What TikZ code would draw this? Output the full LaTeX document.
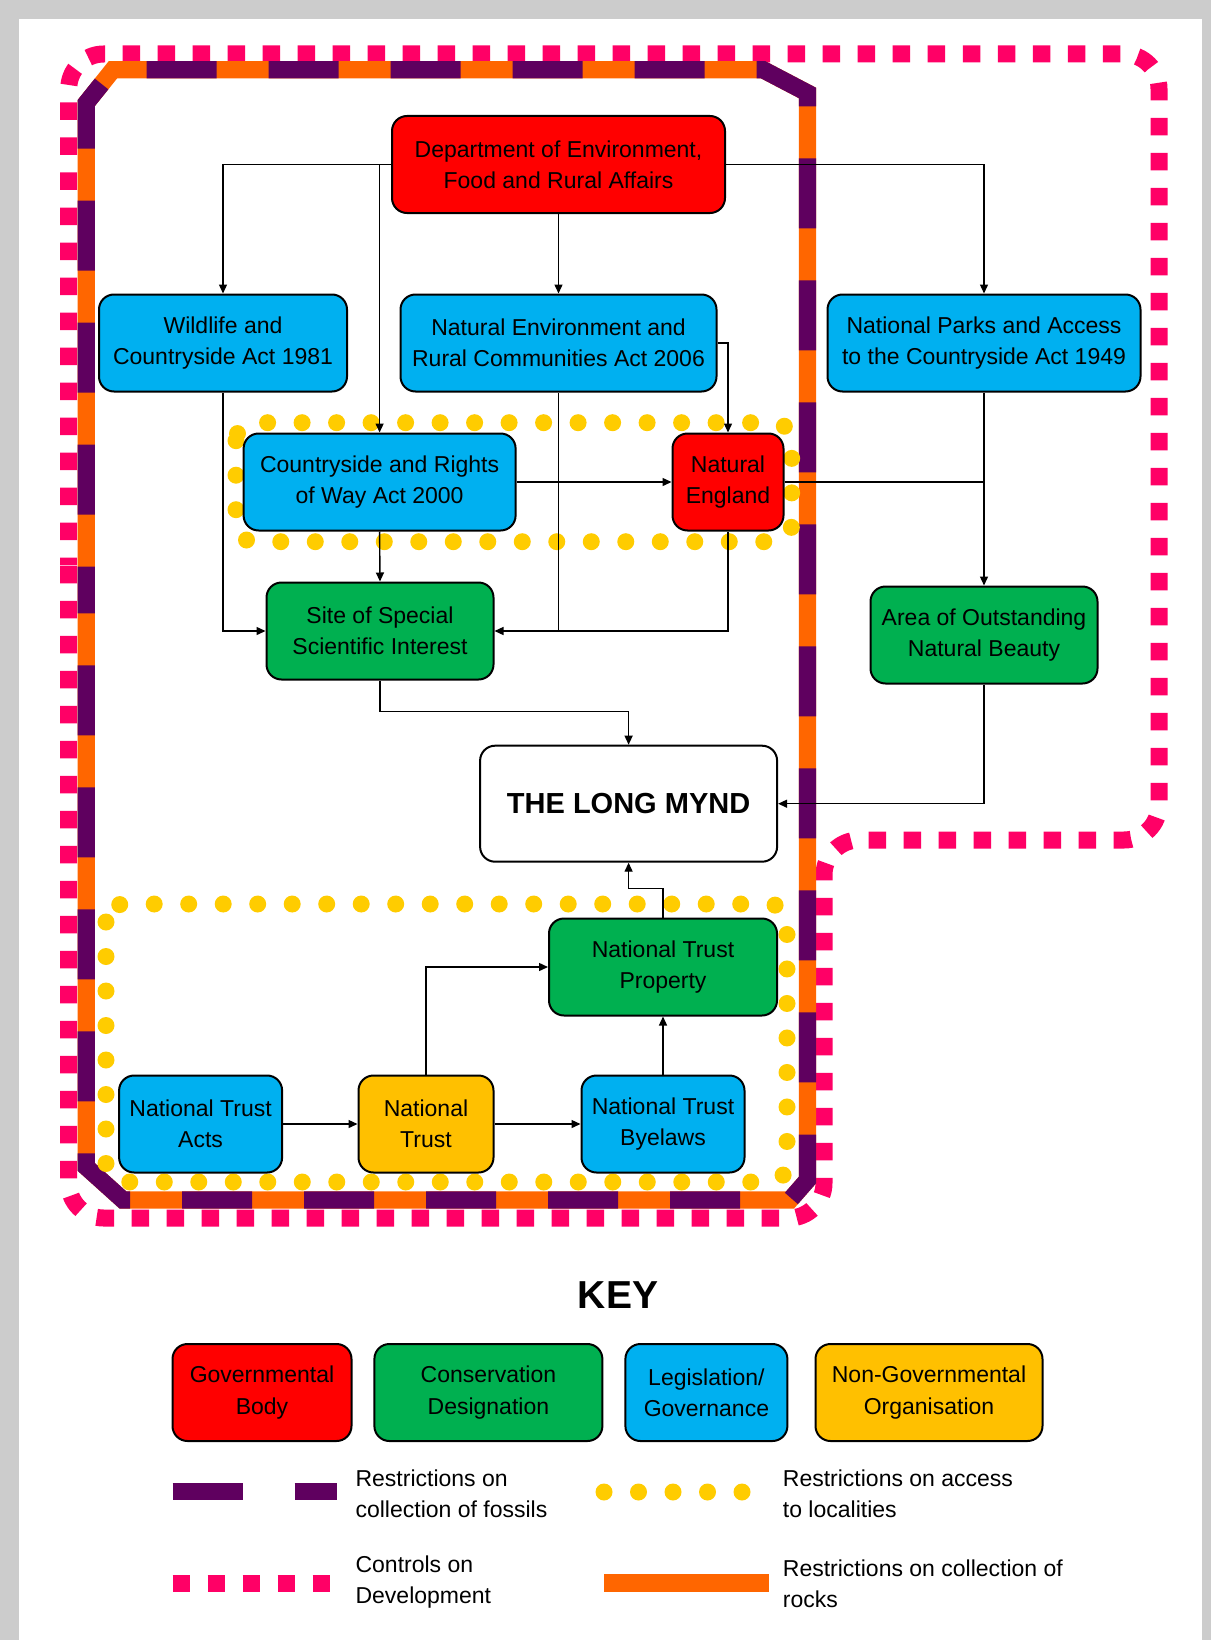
\documentclass[tikz,border=0pt]{standalone}
\usepackage{fontspec}
\setmainfont{Liberation Sans}
\usepackage{tikz}
\usetikzlibrary{arrows.meta}
\definecolor{govred}{HTML}{FF0000}
\definecolor{consgreen}{HTML}{00B050}
\definecolor{legblue}{HTML}{00B0F0}
\definecolor{ngoorange}{HTML}{FFC000}
\definecolor{fossilpurple}{HTML}{5F005F}
\definecolor{rockorange}{HTML}{FF6600}
\definecolor{devpink}{HTML}{FF0066}
\definecolor{accessyellow}{HTML}{FFCC00}
\definecolor{framegray}{HTML}{CCCCCC}
\newcommand{\boxfont}{\fontsize{23pt}{31.4pt}\selectfont}

\begin{document}
\begin{tikzpicture}
	[x=1pt, y=-1pt, font=\boxfont, inner sep=0pt,
	orgbox/.style	= {draw, line width=2pt, rounded corners=15pt, align=center, minimum height=97pt},
	gov/.style		= {orgbox, fill=govred},
	cons/.style		= {orgbox, fill=consgreen},
	legis/.style	= {orgbox, fill=legblue},
	ngo/.style		= {orgbox, fill=ngoorange},
	link/.style		= {line width=1.4pt, -{Triangle[length=9pt,width=8pt]}},
	joinline/.style	= {line width=1.4pt},
	fossils/.style	= {line width=17.3pt, draw=fossilpurple, dash pattern=on 70pt off 52pt},
	rocks/.style	= {line width=17.3pt, draw=rockorange},
	develop/.style	= {line width=17pt, draw=devpink, dash pattern=on 17.5pt off 17.5pt},
	access/.style	= {line width=17pt, draw=accessyellow, line cap=round, dash pattern=on 0pt off 34.5pt},
	keytext/.style	= {anchor=west, align=left}]

	\useasboundingbox (0,0) rectangle (1211,1640);
	\fill [framegray] (0,0) rectangle (1211,1640);
	\fill [white] (19,19) rectangle (1202,1640);

	% restriction boundaries
	\draw [develop, rounded corners=35pt, dash phase=10pt] (68.7,600) -- (68.7,54) -- (1159,54) -- (1159,840) -- (824,840) -- (824,1218) -- (68.7,1218) -- cycle;
	\draw [rocks] (86.3,600) -- (86.3,103) -- (113,69.7) -- (763,69.7) -- (807.5,93) -- (807.5,1180) -- (790,1200) -- (123,1200) -- (86.3,1167) -- cycle;
	\draw [fossils, dash phase=36.6pt] (86.3,600) -- (86.3,103) -- (113,69.7) -- (763,69.7) -- (807.5,93) -- (807.5,1180) -- (790,1200) -- (123,1200) -- (86.3,1167) -- cycle;
	\draw [access, rounded corners=18pt] (236,422.7) rectangle (791.7,541.7);
	\draw [access, rounded corners=18pt] (106,904) rectangle (787,1182);

	% organisations and designations
	\node [gov, minimum width=333pt]	at (558.5,164.5)	(defra)	{Department of Environment,\\Food and Rural Affairs};
	\node [legis, minimum width=248pt]	at (223,343)		(wca)	{Wildlife and\\Countryside Act 1981};
	\node [legis, minimum width=316pt]	at (558.5,343)		(nerc)	{Natural Environment and\\Rural Communities Act 2006};
	\node [legis, minimum width=313pt]	at (984,343)		(np)	{National Parks and Access\\to the Countryside Act 1949};
	\node [legis, minimum width=272pt]	at (379.6,482)		(crow)	{Countryside and Rights\\of Way Act 2000};
	\node [gov, minimum width=111pt]	at (728,482)		(ne)	{Natural\\England};
	\node [cons, minimum width=227pt]	at (380,631)		(sssi)	{Site of Special\\Scientific Interest};
	\node [cons, minimum width=227pt]	at (984,635)		(aonb)	{Area of Outstanding\\Natural Beauty};
	\node [orgbox, fill=white, minimum width=297pt, minimum height=116pt, font=\fontsize{29pt}{34pt}\selectfont\bfseries]
										at (628.6,803.7)	(lm)	{THE LONG MYND};
	\node [cons, minimum width=228pt]	at (663,967)		(ntp)	{National Trust\\Property};
	\node [legis, minimum width=163pt]	at (200.6,1124)		(nta)	{National Trust\\Acts};
	\node [ngo, minimum width=135pt]	at (426,1124)		(nt)	{National\\Trust};
	\node [legis, minimum width=163pt]	at (663,1124)		(ntb)	{National Trust\\Byelaws};

	% connectors
	\draw [link] (defra.west) -| (wca.north);
	\draw [link] (crow.north |- defra.west) -- (crow.north);
	\draw [link] (defra.south) -- (nerc.north);
	\draw [link] (defra.east) -| (np.north);
	\draw [link] (nerc.east) -| (ne.north);
	\draw [link] (nerc.south) |- (sssi.east);
	\draw [joinline] (ne.south) |- (nerc.south |- sssi.east);
	\draw [link] (wca.south) |- (sssi.west);
	\draw [link] (crow.south) -- (sssi.north);
	\draw [link] (crow.east) -- (ne.west);
	\draw [link] (np.south) -- (aonb.north);
	\draw [joinline] (ne.east) -- (ne.east -| aonb.north);
	\draw [link] (sssi.south) -- ++(0,31) -| (lm.north);
	\draw [link] (aonb.south) |- (lm.east);
	\draw [link] (ntp.north) -- ++(0,-29) -| (lm.south);
	\draw [link] (nta.east) -- (nt.west);
	\draw [link] (nt.east) -- (ntb.west);
	\draw [link] (nt.north) |- (ntp.west);
	\draw [link] (ntb.north) -- (ntp.south);

	% key
	\node [font=\fontsize{39pt}{44pt}\selectfont\bfseries] at (618,1295) (keytitle) {KEY};
	\node [gov, minimum width=179pt]	at (262,1392.5)		(keygov)	{Governmental\\Body};
	\node [cons, minimum width=228pt]	at (488.4,1392.5)	(keycons)	{Conservation\\Designation};
	\node [legis, minimum width=162pt]	at (706.4,1392.5)	(keylegis)	{Legislation/\\Governance};
	\node [ngo, minimum width=227pt]	at (929,1392.5)		(keyngo)	{Non-Governmental\\Organisation};

	\draw [fossils] (172.6,1491.7) -- (336.7,1491.7);
	\draw [access] (604,1492) -- (744,1492);
	\draw [develop] (172.6,1583) -- (330,1583);
	\draw [rocks] (604,1583) -- (768.6,1583);

	\node [keytext] at (355.4,1494)	(fossiltext)	{Restrictions on\\collection of fossils};
	\node [keytext] at (782.7,1494)	(accesstext)	{Restrictions on access\\to localities};
	\node [keytext] at (355.4,1582)	(developtext)	{Controls on\\Development};
	\node [keytext] at (782.7,1584)	(rockstext)		{Restrictions on collection of\\rocks};
\end{tikzpicture}
\end{document}
